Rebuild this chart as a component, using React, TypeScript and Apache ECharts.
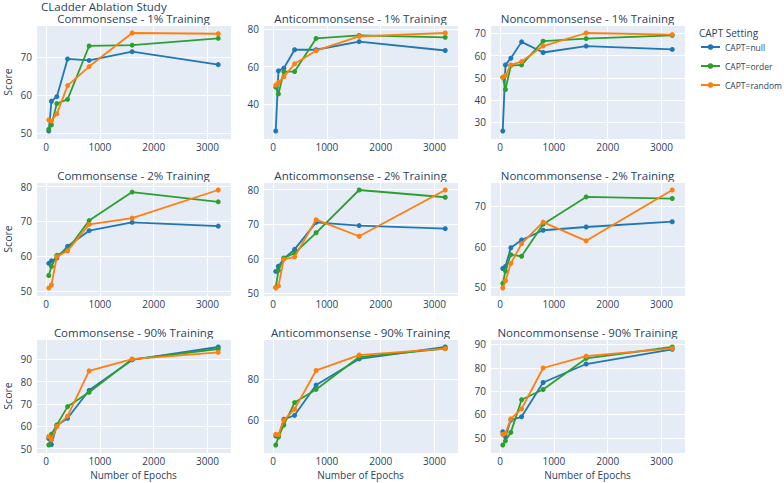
import React, { useEffect, useRef } from "react";
import * as echarts from "echarts";

// ---- data ----
const epochs = [50, 100, 200, 400, 800, 1600, 3200];
const settingNames = ["CAPT=null", "CAPT=order", "CAPT=random"];
const settingColors = ["#1f77b4", "#2ca02c", "#ff7f0e"];
const panelTitles = [
  "Commonsense - 1% Training",
  "Anticommonsense - 1% Training",
  "Noncommonsense - 1% Training",
  "Commonsense - 2% Training",
  "Anticommonsense - 2% Training",
  "Noncommonsense - 2% Training",
  "Commonsense - 90% Training",
  "Anticommonsense - 90% Training",
  "Noncommonsense - 90% Training",
];
const yTickSteps = [10, 20, 10, 10, 10, 10, 10, 20, 10];
const xTickStep = 1000;

const cs1Null = [50.6, 58.4, 59.6, 69.5, 69.1, 71.4, 68.0];
const cs1Order = [51.1, 52.2, 57.8, 58.9, 72.9, 73.1, 74.9];
const cs1Random = [53.5, 53.2, 55.1, 62.5, 67.5, 76.3, 76.1];

const anti1Null = [25.8, 57.8, 59.2, 69.0, 69.0, 73.3, 68.6];
const anti1Order = [49.1, 45.5, 57.4, 57.4, 75.0, 76.6, 75.6];
const anti1Random = [50.2, 51.6, 54.6, 61.5, 68.5, 76.1, 77.9];

const non1Null = [26.0, 55.8, 58.8, 66.2, 61.4, 64.3, 62.8];
const non1Order = [50.2, 44.7, 55.5, 55.8, 66.5, 67.7, 69.1];
const non1Random = [50.2, 51.1, 55.8, 57.3, 64.3, 70.2, 69.5];

const cs2Null = [57.9, 58.6, 59.4, 62.8, 67.3, 69.7, 68.6];
const cs2Order = [54.4, 57.0, 60.2, 61.8, 70.2, 78.4, 75.6];
const cs2Random = [50.8, 51.7, 59.8, 61.5, 69.1, 70.9, 79.0];

const anti2Null = [56.3, 57.8, 60.0, 62.7, 70.5, 69.6, 68.7];
const anti2Order = [51.7, 56.6, 60.2, 61.6, 67.5, 79.9, 77.8];
const anti2Random = [51.5, 52.1, 59.8, 60.5, 71.3, 66.5, 79.9];

const non2Null = [54.6, 55.1, 59.7, 61.6, 64.0, 64.8, 66.1];
const non2Order = [50.9, 54.0, 58.0, 57.6, 65.5, 72.2, 71.8];
const non2Random = [49.8, 51.6, 55.8, 60.7, 66.0, 61.4, 73.9];

const cs90Null = [54.5, 51.8, 60.3, 63.6, 76.1, 89.7, 95.5];
const cs90Order = [51.6, 56.4, 60.6, 68.8, 75.2, 90.0, 94.6];
const cs90Random = [55.4, 53.9, 59.9, 64.5, 84.8, 90.1, 93.1];

const anti90Null = [52.4, 52.4, 60.5, 62.4, 77.1, 89.8, 95.6];
const anti90Order = [48.0, 51.9, 57.7, 68.6, 75.0, 90.7, 94.8];
const anti90Random = [53.2, 53.0, 60.0, 65.4, 84.2, 91.7, 94.8];

const non90Null = [52.6, 50.4, 57.6, 59.0, 73.7, 81.6, 87.9];
const non90Order = [46.9, 48.7, 52.3, 66.3, 70.7, 84.0, 88.9];
const non90Random = [51.4, 51.9, 58.1, 62.4, 79.9, 85.0, 88.3];

const panelSeries = [
  [cs1Null, cs1Order, cs1Random],
  [anti1Null, anti1Order, anti1Random],
  [non1Null, non1Order, non1Random],
  [cs2Null, cs2Order, cs2Random],
  [anti2Null, anti2Order, anti2Random],
  [non2Null, non2Order, non2Random],
  [cs90Null, cs90Order, cs90Random],
  [anti90Null, anti90Order, anti90Random],
  [non90Null, non90Order, non90Random],
];

// ---- layout ----
const COL_X = [36, 263, 490];
const ROW_Y = [25, 182, 339];
const PW = 195;
const PH = 114;
const TEXT = "#2a3f5f";
const FONT = "Open Sans";

function padRange(vals: number[], lenPx: number, padPx: number): [number, number] {
  const lo = Math.min(...vals);
  const hi = Math.max(...vals);
  const d = hi - lo;
  const r = (d * lenPx) / (lenPx - 2 * padPx);
  const p = (r - d) / 2;
  return [lo - p, hi + p];
}

function stepFormatter(step: number) {
  return (v: number) => {
    const q = v / step;
    return Math.abs(q - Math.round(q)) < 1e-6 ? String(Math.round(v)) : "";
  };
}

export default function App() {
  const ref = useRef<HTMLDivElement>(null);

  useEffect(() => {
    if (!ref.current) return;
    document.body.style.margin = "0";
    const chart = echarts.init(ref.current, undefined, { renderer: "svg" });

    const grids: any[] = [];
    const xAxes: any[] = [];
    const yAxes: any[] = [];
    const series: any[] = [];
    const graphics: any[] = [];

    const [xMin, xMax] = padRange(epochs, PW, 12.75);

    panelSeries.forEach((group, i) => {
      const r = Math.floor(i / 3);
      const c = i % 3;
      grids.push({
        left: COL_X[c],
        top: ROW_Y[r],
        width: PW,
        height: PH,
        show: true,
        backgroundColor: "#E5ECF6",
        borderWidth: 0,
        containLabel: false,
      });
      xAxes.push({
        type: "value",
        gridIndex: i,
        min: xMin,
        max: xMax,
        minInterval: xTickStep,
        maxInterval: xTickStep,
        axisLine: { show: false },
        axisTick: { show: false },
        splitLine: { show: true, lineStyle: { color: "#ffffff", width: 1 } },
        axisLabel: {
          color: TEXT,
          fontFamily: FONT,
          fontSize: 10,
          margin: 3,
          formatter: stepFormatter(xTickStep),
        },
        name: r === 2 ? "Number of Epochs" : "",
        nameLocation: "middle",
        nameGap: 17,
        nameTextStyle: { color: TEXT, fontFamily: FONT, fontSize: 10 },
      });
      const all = ([] as number[]).concat(...group);
      const [yMin, yMax] = padRange(all, PH, 8);
      const step = yTickSteps[i];
      yAxes.push({
        type: "value",
        gridIndex: i,
        min: yMin,
        max: yMax,
        minInterval: step,
        maxInterval: step,
        axisLine: { show: false },
        axisTick: { show: false },
        splitLine: { show: true, lineStyle: { color: "#ffffff", width: 1 } },
        axisLabel: {
          color: TEXT,
          fontFamily: FONT,
          fontSize: 10,
          margin: 4,
          formatter: stepFormatter(step),
        },
        name: c === 0 ? "Score" : "",
        nameLocation: "middle",
        nameGap: 23,
        nameTextStyle: { color: TEXT, fontFamily: FONT, fontSize: 10.5 },
      });
      group.forEach((vals, s) => {
        series.push({
          type: "line",
          name: settingNames[s],
          xAxisIndex: i,
          yAxisIndex: i,
          data: epochs.map((e, k) => [e, vals[k]]),
          symbol: "circle",
          symbolSize: 5,
          showSymbol: true,
          color: settingColors[s],
          lineStyle: { width: 1.8, color: settingColors[s] },
          itemStyle: { color: settingColors[s] },
          emphasis: { disabled: true },
          z: 2 + s,
        });
      });
      graphics.push({
        type: "text",
        x: COL_X[c] + PW / 2,
        y: ROW_Y[r] - 7,
        style: {
          text: panelTitles[i],
          fill: TEXT,
          font: `11.5px "${FONT}"`,
          textAlign: "center",
          textVerticalAlign: "middle",
        },
      });
    });

    graphics.push({
      type: "text",
      x: 41,
      y: 6,
      style: {
        text: "CLadder Ablation Study",
        fill: TEXT,
        font: `11.5px "${FONT}"`,
        textAlign: "left",
        textVerticalAlign: "middle",
      },
    });
    graphics.push({
      type: "text",
      x: 699,
      y: 33,
      style: {
        text: "CAPT Setting",
        fill: TEXT,
        font: `10px "${FONT}"`,
        textAlign: "left",
        textVerticalAlign: "middle",
      },
    });

    chart.setOption({
      animation: false,
      backgroundColor: "#ffffff",
      grid: grids,
      xAxis: xAxes,
      yAxis: yAxes,
      series,
      graphic: graphics,
      legend: {
        show: true,
        orient: "vertical",
        left: 700,
        top: 41,
        padding: 0,
        itemWidth: 19,
        itemHeight: 7,
        itemGap: 7,
        data: settingNames,
        textStyle: { color: TEXT, fontFamily: FONT, fontSize: 8.5, lineHeight: 12 },
        selectedMode: false,
      },
      tooltip: { show: false },
    });

    return () => chart.dispose();
  }, []);

  return <div ref={ref} style={{ width: 784, height: 483 }} />;
}
